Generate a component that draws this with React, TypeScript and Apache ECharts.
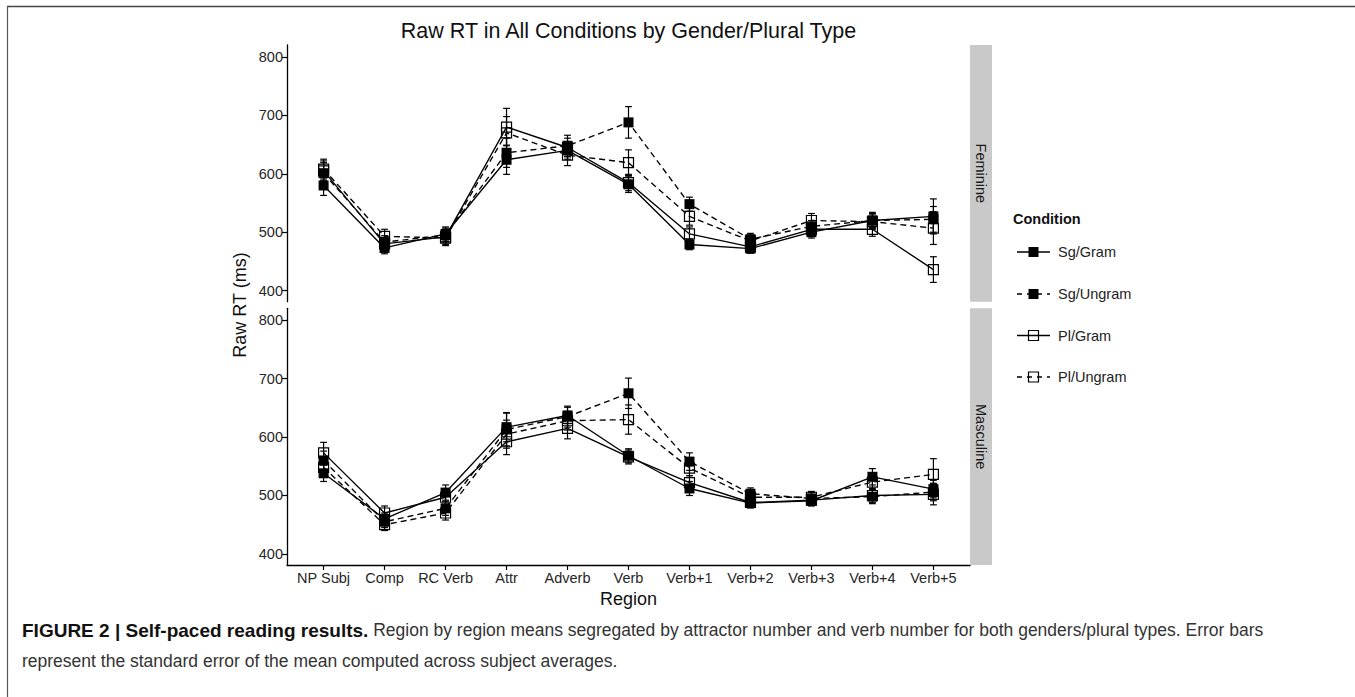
import React, { useEffect, useRef } from 'react';
import * as echarts from 'echarts';

// ---------- data ----------
const regions = ['NP Subj', 'Comp', 'RC Verb', 'Attr', 'Adverb', 'Verb', 'Verb+1', 'Verb+2', 'Verb+3', 'Verb+4', 'Verb+5'];
const yTicks = [400, 500, 600, 700, 800];
const conditions = ['Sg/Gram', 'Sg/Ungram', 'Pl/Gram', 'Pl/Ungram'];
const panels = ['Feminine', 'Masculine'];

// Feminine means
const femSgGram = [580, 473, 497, 624, 640, 582, 479, 472, 500, 520, 527];
const femSgUngram = [601, 483, 495, 636, 648, 688, 548, 488, 510, 520, 522];
const femPlGram = [605, 480, 492, 680, 645, 585, 497, 475, 505, 505, 436];
const femPlUngram = [608, 493, 490, 670, 632, 619, 527, 485, 520, 518, 507];
// Feminine standard errors
const femSgGramSE = [17, 10, 12, 25, 15, 14, 9, 8, 10, 14, 30];
const femSgUngramSE = [18, 11, 12, 25, 18, 27, 12, 10, 10, 12, 22];
const femPlGramSE = [17, 11, 13, 32, 16, 14, 12, 9, 10, 12, 22];
const femPlUngramSE = [17, 12, 13, 28, 18, 22, 15, 10, 12, 13, 28];

// Masculine means
const mascSgGram = [538, 460, 505, 617, 637, 568, 512, 487, 491, 532, 511];
const mascSgUngram = [560, 455, 478, 613, 635, 675, 558, 503, 495, 498, 506];
const mascPlGram = [573, 470, 497, 592, 615, 566, 522, 488, 492, 500, 502];
const mascPlUngram = [548, 450, 470, 605, 628, 630, 547, 497, 497, 523, 536];
// Masculine standard errors
const mascSgGramSE = [14, 10, 13, 25, 14, 12, 12, 8, 9, 14, 15];
const mascSgUngramSE = [16, 10, 12, 28, 18, 26, 15, 10, 10, 12, 15];
const mascPlGramSE = [18, 12, 12, 22, 18, 12, 12, 9, 9, 12, 18];
const mascPlUngramSE = [15, 10, 12, 24, 16, 25, 16, 10, 10, 14, 27];

const panelMeans = [
  [femSgGram, femSgUngram, femPlGram, femPlUngram],
  [mascSgGram, mascSgUngram, mascPlGram, mascPlUngram],
];
const panelSE = [
  [femSgGramSE, femSgUngramSE, femPlGramSE, femPlUngramSE],
  [mascSgGramSE, mascSgUngramSE, mascPlGramSE, mascPlUngramSE],
];

const titleText = 'Raw RT in All Conditions by Gender/Plural Type';
const yName = 'Raw RT (ms)';
const xName = 'Region';
const legendTitle = 'Condition';
const captionBold = 'FIGURE 2 | Self-paced reading results.';
const captionLine1 = ' Region by region means segregated by attractor number and verb number for both genders/plural types. Error bars';
const captionLine2 = 'represent the standard error of the mean computed across subject averages.';

// ---------- styles ----------
const FONT = '"Liberation Sans", Arial, Helvetica, sans-serif';
const condFilled = [true, true, false, false];
const condDashed = [false, true, false, true];
const DASH = [6, 4];

const PLOT_LEFT = 287;
const PLOT_W = 683;
const PANEL_TOPS = [45, 308.3];
const PANEL_H = 256.7;
const Y_MIN = 381;
const Y_MAX = 820.5;

export default function App() {
  const ref = useRef<HTMLDivElement>(null);

  useEffect(() => {
    if (!ref.current) return;
    const chart = echarts.init(ref.current, undefined, { renderer: 'svg' });

    const grids = PANEL_TOPS.map((t) => ({ left: PLOT_LEFT, top: t, width: PLOT_W, height: PANEL_H, containLabel: false }));

    const xAxes = panels.map((_, p) => ({
      type: 'value',
      gridIndex: p,
      min: 0.4,
      max: 11.6,
      show: p === 1,
      axisLine: { show: true, lineStyle: { color: '#000', width: 1.3 } },
      axisTick: { show: true, length: 5, customValues: regions.map((_, i) => i + 1), lineStyle: { color: '#000', width: 1.2 } },
      axisLabel: {
        show: true,
        customValues: regions.map((_, i) => i + 1),
        formatter: (v: number) => regions[Math.round(v) - 1] ?? '',
        color: '#262626',
        fontSize: 14.5,
        fontFamily: FONT,
        margin: 5,
      },
      splitLine: { show: false },
    }));

    const yAxes = panels.map((_, p) => ({
      type: 'value',
      gridIndex: p,
      min: Y_MIN,
      max: Y_MAX,
      axisLine: { show: true, lineStyle: { color: '#000', width: 1.3 } },
      axisTick: { show: true, length: 5, customValues: yTicks, lineStyle: { color: '#000', width: 1.2 } },
      axisLabel: { show: true, customValues: yTicks, color: '#262626', fontSize: 14.5, fontFamily: FONT, margin: 4 },
      splitLine: { show: false },
    }));

    const series: any[] = [];
    panels.forEach((_, p) => {
      conditions.forEach((c, k) => {
        const means = panelMeans[p][k];
        const ses = panelSE[p][k];
        series.push({
          type: 'custom',
          name: c + ' SE',
          xAxisIndex: p,
          yAxisIndex: p,
          silent: true,
          z: 2,
          data: means.map((m, i) => [i + 1, m - ses[i], m + ses[i]]),
          encode: { x: 0, y: [1, 2] },
          renderItem: (params: any, api: any) => {
            const x = api.value(0);
            const lo = api.coord([x, api.value(1)]);
            const hi = api.coord([x, api.value(2)]);
            const w = 3.4;
            const st = { stroke: '#000', lineWidth: 1.2 };
            return {
              type: 'group',
              children: [
                { type: 'line', shape: { x1: lo[0], y1: lo[1], x2: hi[0], y2: hi[1] }, style: st },
                { type: 'line', shape: { x1: lo[0] - w, y1: lo[1], x2: lo[0] + w, y2: lo[1] }, style: st },
                { type: 'line', shape: { x1: hi[0] - w, y1: hi[1], x2: hi[0] + w, y2: hi[1] }, style: st },
              ],
            };
          },
        });
      });
      conditions.forEach((c, k) => {
        const means = panelMeans[p][k];
        series.push({
          type: 'line',
          name: c,
          xAxisIndex: p,
          yAxisIndex: p,
          silent: true,
          z: 3,
          data: means.map((m, i) => [i + 1, m]),
          symbol: 'rect',
          symbolSize: 10,
          showAllSymbol: true,
          lineStyle: { color: '#000', width: 1.35, type: condDashed[k] ? DASH : 'solid' },
          itemStyle: condFilled[k]
            ? { color: '#000', borderColor: '#000', borderWidth: 0 }
            : { color: 'rgba(0,0,0,0)', borderColor: '#000', borderWidth: 1.2 },
          emphasis: { disabled: true },
        });
      });
    });

    const graphic: any[] = [];
    const centered = { align: 'center', verticalAlign: 'middle', textAlign: 'center', textVerticalAlign: 'middle' };
    const leftMid = { align: 'left', verticalAlign: 'middle', textAlign: 'left', textVerticalAlign: 'middle' };
    // figure frame
    graphic.push({ type: 'line', shape: { x1: 7, y1: 6.5, x2: 1355, y2: 6.5 }, style: { stroke: '#444', lineWidth: 1.6 }, silent: true });
    graphic.push({ type: 'line', shape: { x1: 7.5, y1: 6, x2: 7.5, y2: 697 }, style: { stroke: '#555', lineWidth: 1.2 }, silent: true });

    // title
    graphic.push({
      type: 'text', x: PLOT_LEFT + PLOT_W / 2, y: 31,
      style: { text: titleText, fontSize: 21.5, fontFamily: FONT, fill: '#111', ...centered },
    });
    // y axis name
    graphic.push({
      type: 'text', x: 240, y: 305, rotation: Math.PI / 2,
      style: { text: yName, fontSize: 18, fontFamily: FONT, fill: '#111', ...centered },
    });
    // x axis name
    graphic.push({
      type: 'text', x: PLOT_LEFT + PLOT_W / 2, y: 599,
      style: { text: xName, fontSize: 18, fontFamily: FONT, fill: '#111', ...centered },
    });
    // strips
    panels.forEach((name, p) => {
      graphic.push({ type: 'rect', shape: { x: PLOT_LEFT + PLOT_W, y: PANEL_TOPS[p], width: 22, height: PANEL_H }, style: { fill: '#c9c9c9' }, silent: true });
      graphic.push({
        type: 'text', x: PLOT_LEFT + PLOT_W + 11, y: PANEL_TOPS[p] + PANEL_H / 2, rotation: -Math.PI / 2,
        style: { text: name, fontSize: 14.5, fontFamily: FONT, fill: '#1a1a1a', ...centered },
      });
    });
    // legend
    graphic.push({
      type: 'text', x: 1013, y: 219,
      style: { text: legendTitle, fontSize: 14.5, fontWeight: 'bold', fontFamily: FONT, fill: '#111', ...leftMid },
    });
    const legendYs = [252, 294, 335.5, 377];
    conditions.forEach((c, k) => {
      const y = legendYs[k];
      graphic.push({ type: 'line', shape: { x1: 1017, y1: y, x2: 1050, y2: y }, style: { stroke: '#000', lineWidth: 1.3, lineDash: condDashed[k] ? [5, 5] : null } });
      graphic.push({
        type: 'rect', shape: { x: 1028.5, y: y - 5, width: 10, height: 10 },
        style: condFilled[k] ? { fill: '#000' } : { fill: 'none', stroke: '#000', lineWidth: 1.2 },
      });
      graphic.push({
        type: 'text', x: 1058, y,
        style: { text: c, fontSize: 14.5, fontFamily: FONT, fill: '#222', ...leftMid },
      });
    });
    // caption
    graphic.push({
      type: 'text', x: 22, y: 630,
      style: {
        text: '{b|' + captionBold + '}{n|' + captionLine1 + '}',
        rich: {
          b: { fontSize: 19, fontWeight: 'bold', fontFamily: FONT, fill: '#111' },
          n: { fontSize: 17.5, fontFamily: FONT, fill: '#333' },
        },
        fontSize: 17.5, fontFamily: FONT, fill: '#333',
        ...leftMid,
      },
    });
    graphic.push({
      type: 'text', x: 22, y: 661,
      style: { text: captionLine2, fontSize: 17.5, fontFamily: FONT, fill: '#333', ...leftMid },
    });

    chart.setOption({
      animation: false,
      backgroundColor: '#fff',
      grid: grids,
      xAxis: xAxes,
      yAxis: yAxes,
      series,
      graphic,
    });

    return () => chart.dispose();
  }, []);

  return <div ref={ref} style={{ position: 'absolute', left: 0, top: 0, width: 1355, height: 697 }} />;
}
